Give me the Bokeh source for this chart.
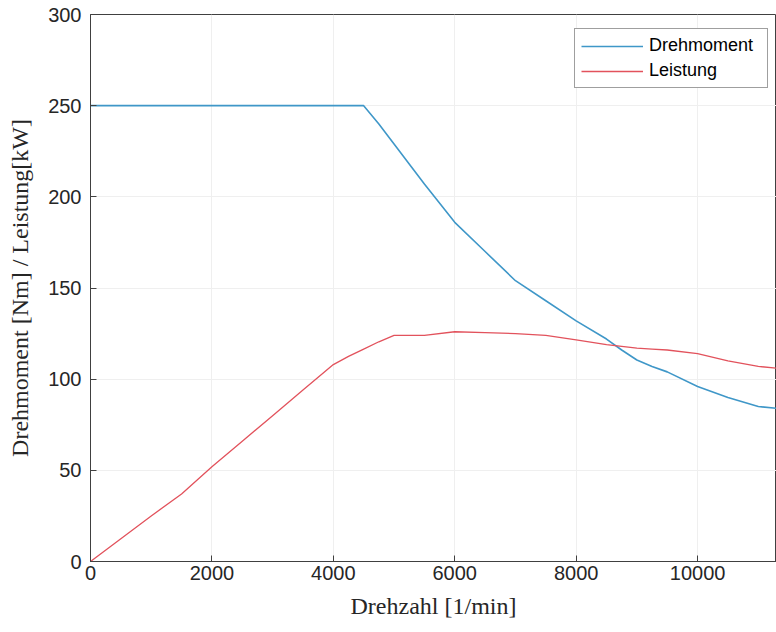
from bokeh.plotting import figure
from bokeh.models import Range1d, FixedTicker, Legend, LegendItem
from bokeh.embed import file_html
from bokeh.resources import INLINE

speed = [0, 500, 1000, 1500, 2000, 2500, 3000, 3500, 4000, 4250, 4500, 4750, 5000, 5500,
         6000, 6500, 7000, 7500, 8000, 8500, 8750, 9000, 9250, 9500, 10000, 10500, 11000, 11300]
torque = [250, 250, 250, 250, 250, 250, 250, 250, 250, 250, 250, 240, 229, 207,
          186, 170, 154, 143, 132, 122, 116, 110.5, 107, 104, 96, 90, 85, 84]
power = [0, 12.5, 25, 37, 52, 66, 80, 94, 108, 112.5, 116.5, 120.5, 124, 124,
         126, 125.5, 125, 124, 121.5, 119, 118, 117, 116.5, 116, 114, 110, 107, 106]
x_ticks = [0, 2000, 4000, 6000, 8000, 10000]
y_ticks = [0, 50, 100, 150, 200, 250, 300]

p = figure(width=776, height=632, output_backend="svg", toolbar_location=None,
           x_range=Range1d(0, 11300), y_range=Range1d(0, 300),
           min_border_left=90, min_border_right=0, min_border_top=14, min_border_bottom=71)
p.background_fill_color = "white"
p.border_fill_color = "white"
p.outline_line_color = "#404040"
p.outline_line_width = 1

for ax, ticks in ((p.xaxis[0], x_ticks), (p.yaxis[0], y_ticks)):
    ax.ticker = FixedTicker(ticks=ticks)
    ax.major_tick_in = 6
    ax.major_tick_out = 0
    ax.minor_tick_in = 0
    ax.minor_tick_out = 0
    ax.axis_line_color = "#404040"
    ax.major_tick_line_color = "#404040"
    ax.major_label_text_font = "Liberation Sans"
    ax.major_label_text_font_size = "20px"
    ax.major_label_text_color = "#262626"
    ax.axis_label_text_font = "Liberation Serif"
    ax.axis_label_text_font_style = "normal"
    ax.axis_label_text_font_size = "24px"
    ax.axis_label_text_color = "#262626"

p.xaxis.major_label_standoff = 4
p.xaxis.axis_label = "Drehzahl [1/min]"
p.xaxis.axis_label_standoff = 10
p.yaxis.major_label_standoff = 9
p.yaxis.axis_label = "Drehmoment [Nm] / Leistung[kW]"
p.yaxis.axis_label_standoff = 12

p.xgrid.ticker = FixedTicker(ticks=x_ticks)
p.ygrid.ticker = FixedTicker(ticks=y_ticks)
p.grid.grid_line_color = "#efefef"
p.grid.grid_line_width = 1

r1 = p.line(speed, torque, line_color="#3f97c8", line_width=1.6)
r2 = p.line(speed, power, line_color="#e2525c", line_width=1.3)

legend = Legend(items=[LegendItem(label="Drehmoment", renderers=[r1]),
                       LegendItem(label="Leistung", renderers=[r2])],
                location=(484, 473))
legend.label_text_font = "Liberation Sans"
legend.label_text_font_size = "18px"
legend.label_text_color = "#000000"
legend.glyph_width = 62
legend.glyph_height = 20
legend.label_height = 20
legend.label_width = 112
legend.label_standoff = 6
legend.spacing = 4
legend.padding = 6
legend.margin = 0
legend.border_line_color = "#404040"
legend.border_line_width = 1
legend.background_fill_alpha = 1
p.add_layout(legend, "center")

open("out.html", "w").write(file_html(p, INLINE))
